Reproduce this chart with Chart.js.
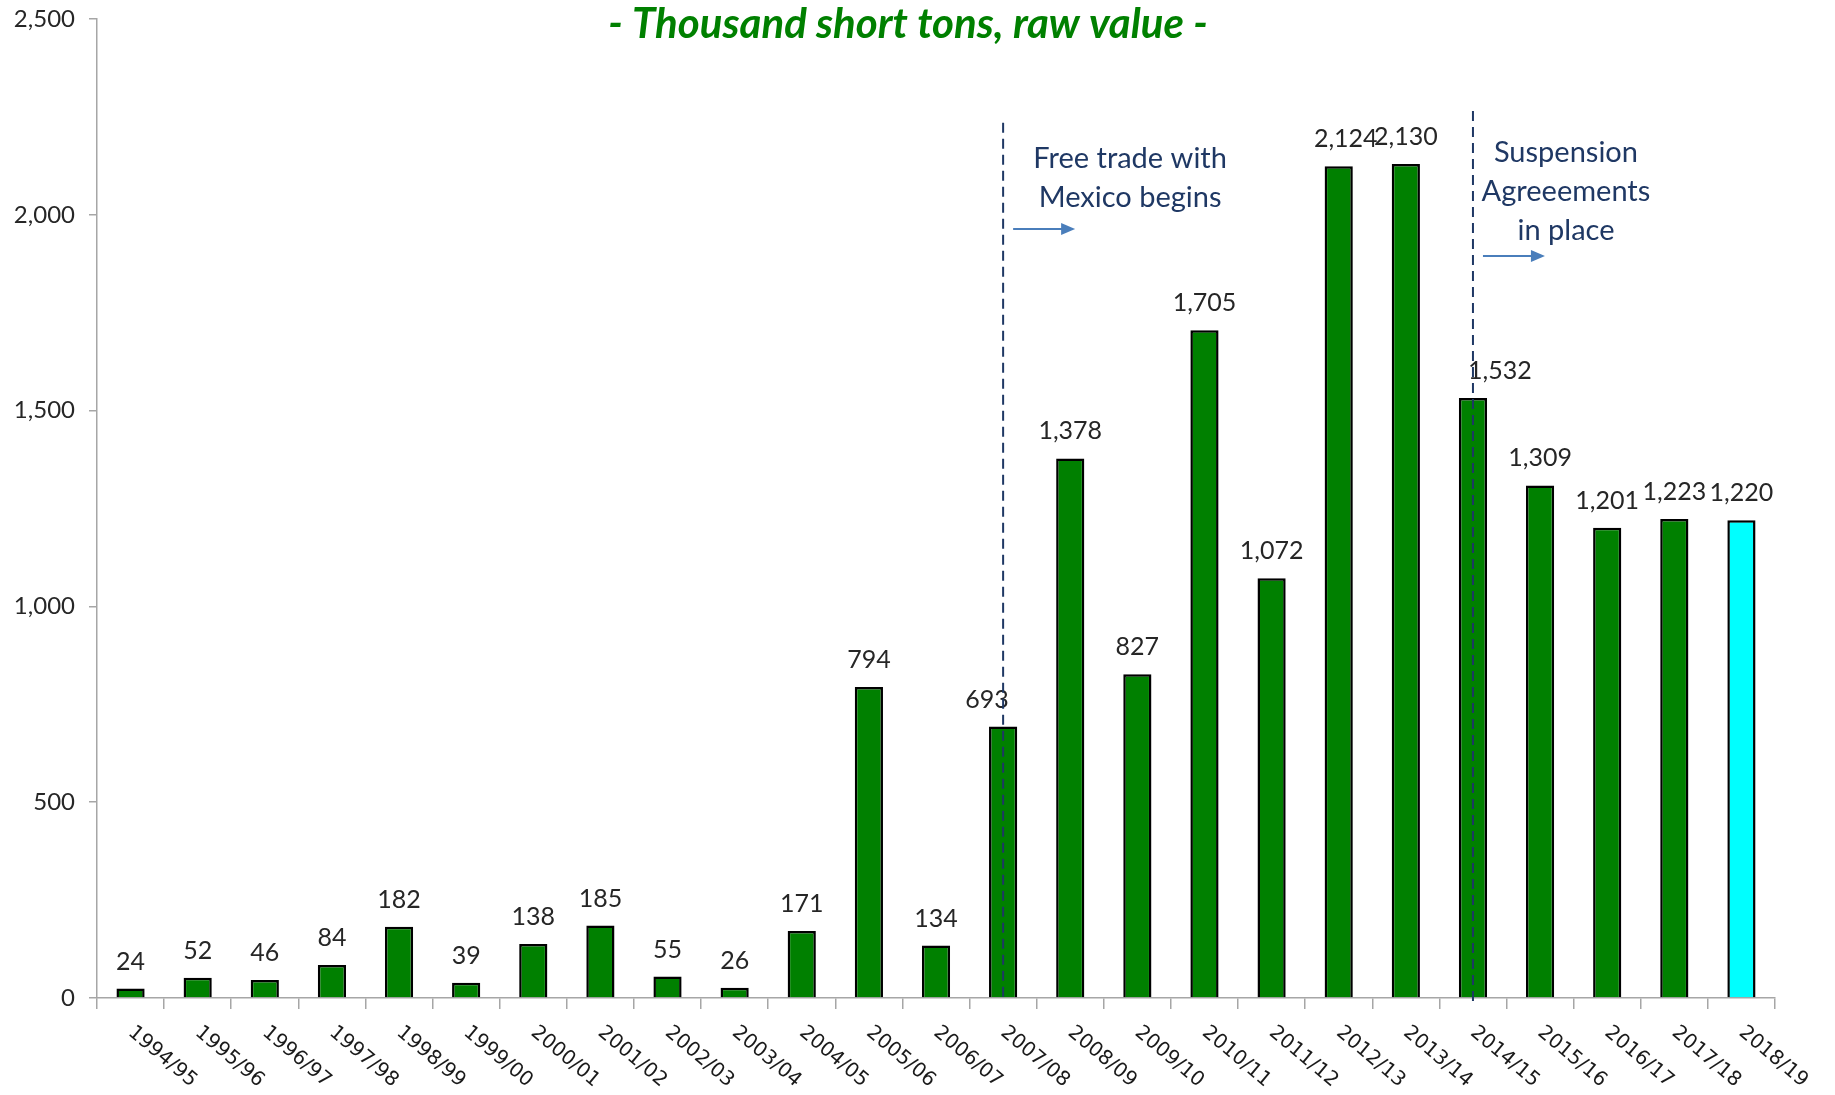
<!DOCTYPE html>
<html>
<head>
<meta charset="utf-8">
<script src="https://cdn.jsdelivr.net/npm/chart.js@4.4.0/dist/chart.umd.min.js"></script>
<style>
  html, body { margin: 0; padding: 0; background: #fff; }
  #wrap { width: 1835px; height: 1095px; }
</style>
</head>
<body>
<div id="wrap"><canvas id="sugarChart"></canvas></div>
<script>
const years = ['1994/95', '1995/96', '1996/97', '1997/98', '1998/99', '1999/00', '2000/01', '2001/02',
    '2002/03', '2003/04', '2004/05', '2005/06', '2006/07', '2007/08', '2008/09', '2009/10', '2010/11',
    '2011/12', '2012/13', '2013/14', '2014/15', '2015/16', '2016/17', '2017/18', '2018/19'];
const imports = [24, 52, 46, 84, 182, 39, 138, 185, 55, 26, 171, 794, 134, 693, 1378, 827, 1705,
    1072, 2124, 2130, 1532, 1309, 1201, 1223, 1220];
const yTicks = [0, 500, 1000, 1500, 2000, 2500];
const titleText = '- Thousand short tons, raw value -';
const notes = [
    { at: '2007/08', top: 2235, lines: ['Free trade with', 'Mexico begins'] },
    { at: '2014/15', top: 2265, lines: ['Suspension', 'Agreeements', 'in place'] }
];

const fmt = v => v.toLocaleString('en-US');
const fontFam = 'Lato, "Open Sans", sans-serif';

// bar colours: last year (forecast) is cyan
const barColors = years.map((y, i) => i === years.length - 1 ? '#00FFFF' : '#008000');

// small nudges for a few labels that sit off centre in the original
const labelNudge = { '2007/08': -16, '2012/13': 7, '2014/15': 27 };

const extrasPlugin = {
    id: 'extras',
    afterDatasetsDraw(chart) {
        const ctx = chart.ctx;
        const meta = chart.getDatasetMeta(0);
        const xs = chart.scales.x, ys = chart.scales.y;

        // value labels
        ctx.save();
        ctx.font = '25px ' + fontFam;
        ctx.fillStyle = '#262626';
        ctx.textAlign = 'center';
        ctx.textBaseline = 'middle';
        meta.data.forEach((bar, i) => {
            const dx = labelNudge[years[i]] || 0;
            ctx.fillText(fmt(imports[i]), bar.x + dx, bar.y - 27);
        });
        ctx.restore();

        // rotated category labels
        ctx.save();
        ctx.font = '20px "DejaVu Sans", sans-serif';
        ctx.fillStyle = '#1a1a1a';
        ctx.textAlign = 'left';
        ctx.textBaseline = 'middle';
        years.forEach((y, i) => {
            const x = xs.getPixelForValue(i);
            ctx.save();
            ctx.translate(x, ys.bottom + 32);
            ctx.rotate(40 * Math.PI / 180);
            ctx.fillText(y, 0, 0);
            ctx.restore();
        });
        ctx.restore();

        // title
        ctx.save();
        ctx.font = 'italic bold 42px ' + fontFam;
        ctx.fillStyle = '#008000';
        ctx.textAlign = 'center';
        ctx.textBaseline = 'middle';
        ctx.fillText(titleText, 908, 24);
        ctx.restore();

        // policy markers
        notes.forEach((n, k) => {
            const x = xs.getPixelForValue(years.indexOf(n.at));
            ctx.save();
            ctx.strokeStyle = '#1F3864';
            ctx.lineWidth = 2;
            ctx.setLineDash([10, 6]);
            ctx.beginPath();
            ctx.moveTo(x, ys.getPixelForValue(n.top));
            ctx.lineTo(x, ys.bottom + (k === 1 ? 6 : 0));
            ctx.stroke();
            ctx.restore();

            const textX = k === 0 ? x + 127 : x + 93;
            const textY = k === 0 ? 159 : 153;
            ctx.save();
            ctx.font = '29px ' + fontFam;
            ctx.fillStyle = '#1F3864';
            ctx.textAlign = 'center';
            ctx.textBaseline = 'middle';
            n.lines.forEach((t, j) => ctx.fillText(t, textX, textY + j * 39));
            ctx.restore();

            // arrow
            const ay = k === 0 ? 229 : 256;
            const ax0 = x + 10, ax1 = x + 72;
            ctx.save();
            ctx.strokeStyle = '#4A7EBB';
            ctx.fillStyle = '#4A7EBB';
            ctx.lineWidth = 2;
            ctx.beginPath();
            ctx.moveTo(ax0, ay);
            ctx.lineTo(ax1 - 10, ay);
            ctx.stroke();
            ctx.beginPath();
            ctx.moveTo(ax1, ay);
            ctx.lineTo(ax1 - 14, ay - 6);
            ctx.lineTo(ax1 - 14, ay + 6);
            ctx.closePath();
            ctx.fill();
            ctx.restore();
        });
    }
};

const ctx = document.getElementById('sugarChart').getContext('2d');
const chart = new Chart(ctx, {
    type: 'bar',
    data: {
        labels: years,
        datasets: [{
            data: imports,
            backgroundColor: barColors,
            borderColor: '#000000',
            borderWidth: 2.5,
            categoryPercentage: 1.0,
            barPercentage: 0.42
        }]
    },
    options: {
        responsive: true,
        maintainAspectRatio: false,
        animation: false,
        devicePixelRatio: 1,
        layout: { padding: { top: 19, right: 60, left: 0, bottom: 0 } },
        plugins: {
            legend: { display: false },
            tooltip: { enabled: false }
        },
        scales: {
            x: {
                grid: { drawOnChartArea: false, offset: true, tickLength: 11, color: '#A6A6A6', lineWidth: 1.5 },
                border: { color: '#A6A6A6', width: 1.5 },
                ticks: { display: false },
                afterFit: s => { s.height = 97; }
            },
            y: {
                min: 0,
                max: 2500,
                afterBuildTicks: s => { s.ticks = yTicks.map(v => ({ value: v })); },
                grid: { drawOnChartArea: false, tickLength: 8, color: '#A6A6A6', lineWidth: 1.5 },
                border: { color: '#A6A6A6', width: 1.5 },
                ticks: {
                    padding: 14,
                    color: '#262626',
                    font: { family: fontFam, size: 24 },
                    callback: v => fmt(v)
                },
                afterFit: s => { s.width = 97; s.paddingTop = 0; s.paddingBottom = 0; }
            }
        }
    },
    plugins: [extrasPlugin]
});
</script>
</body>
</html>
